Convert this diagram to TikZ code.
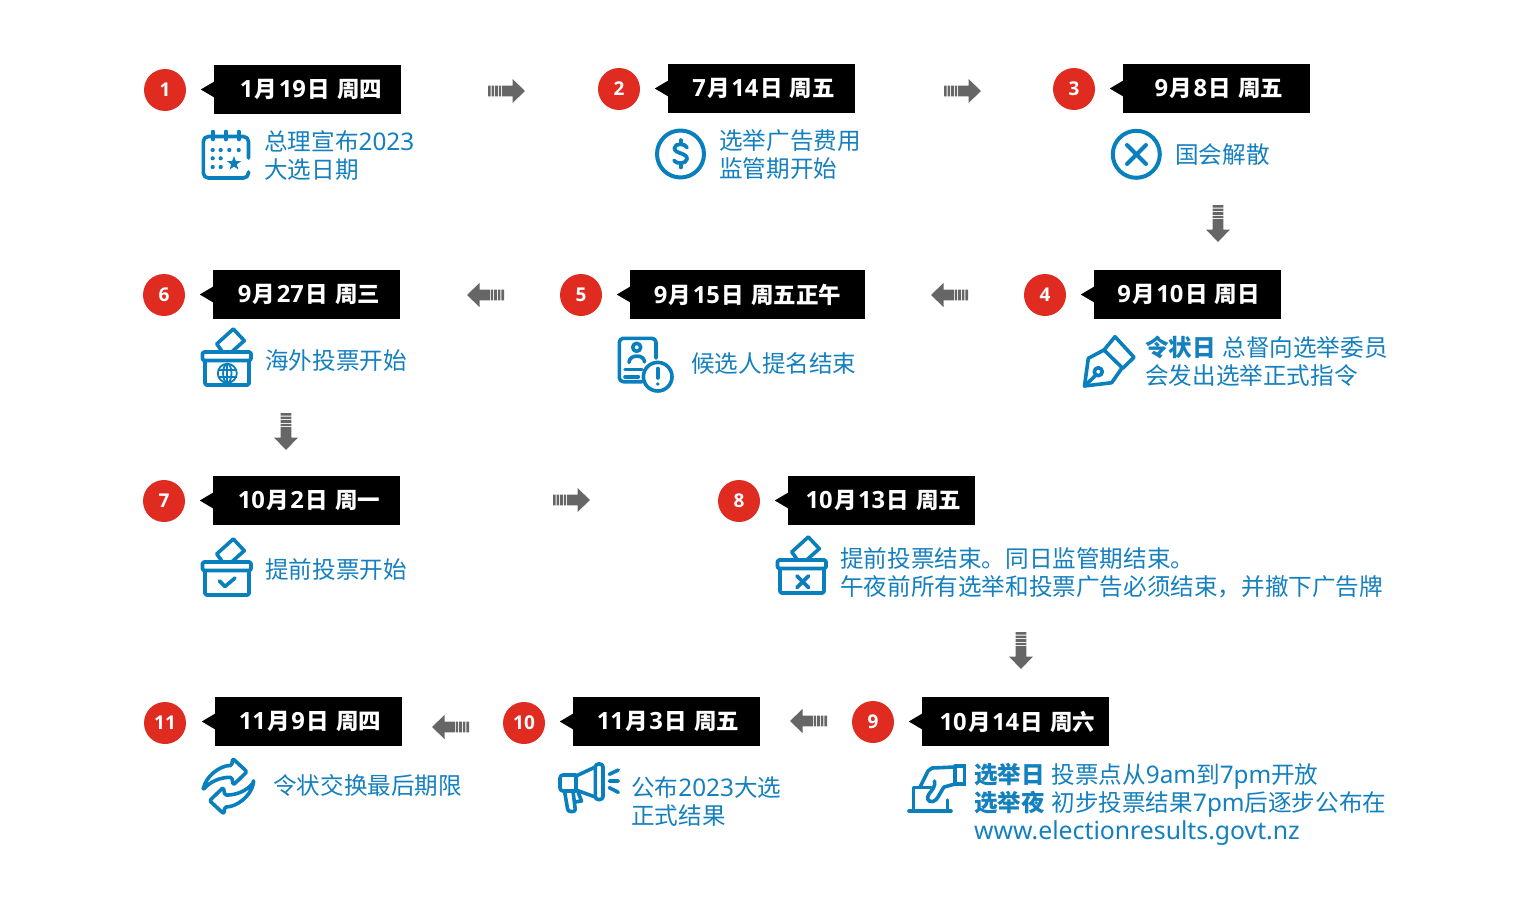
\documentclass[tikz,border=0pt]{standalone}
\usepackage{fontspec}
\setmainfont{Noto Sans CJK SC}
\newfontfamily\latfont{Noto Sans}[Scale=1.03]
\newfontfamily\latwide{Noto Sans}[Scale=1.05]
\newfontfamily\latbold{Open Sans}[Scale=1.055]
\newcommand\Lt[1]{{\latfont #1}}
\newcommand\Dg[1]{{\latbold #1}}
\newcommand\Bd[1]{\textbf{#1}\hspace{6.5pt}}
\definecolor{icoblue}{HTML}{0A7FBD}
\definecolor{txtblue}{HTML}{1580BE}
\definecolor{stepred}{HTML}{DF2B20}
\definecolor{flowgray}{HTML}{666666}
\tikzset{
  x=1pt,y=-1pt,
  stepdot/.style={circle,fill=stepred,minimum size=42pt,inner sep=0pt,text=white,font=\latbold\bfseries\fontsize{18}{18}\selectfont},
  datebox/.style={fill=black,text=white,inner sep=0pt,minimum height=49pt,font=\bfseries\fontsize{22.5}{22.5}\selectfont},
  bodylabel/.style={anchor=west,inner sep=0pt,align=left,text=txtblue,font=\fontsize{23.6}{28}\selectfont},
  ico/.style={draw=icoblue,line width=3.6pt,line cap=round,line join=round},
  pics/flowarrow/.style={code={
    \fill[flowgray] (0,-5.3) rectangle (2.6,5.3) (3.6,-5.3) rectangle (6.2,5.3) (7.2,-5.3) rectangle (9.8,5.3) (10.8,-5.3) rectangle (13.2,5.3);
    \fill[flowgray] (14,-5.3) -- (24.5,-5.3) -- (24.5,-12) -- (37,0) -- (24.5,12) -- (24.5,5.3) -- (14,5.3) -- cycle;
  }},
  pics/ballotbox/.style={code={
    \draw[ico] (221.7,350.7) -- (216.7,344) -- (233.3,329) -- (244.3,340.7) -- (232.7,351);
    \draw[ico,rounded corners=1.5pt] (202.5,352) rectangle (251,360.5);
    \draw[ico,rounded corners=1.5pt] (205,360.5) -- (205,385) -- (249,385) -- (249,360.5);
  }},
}
\newcommand\stepitem[6]{%
  \node[stepdot] (c#1) at (#2) {\raisebox{-1pt}{#1}};
  \node[datebox,minimum width=#4pt] (d#1) at (#3) {\hspace{#5pt}\raisebox{-1pt}{#6}};
  \fill (d#1.west) ++(0.5,-8) -- ++(-13.5,8) -- ++(13.5,8) -- cycle;
}
\begin{document}
\begin{tikzpicture}
\useasboundingbox (0,0) rectangle (1516,905);
\fill[white] (0,0) rectangle (1516,905);

% steps
\stepitem{1}{165,90}{307.5,89.5}{187}{7}{\Dg{1}\hspace{1.5pt}月\hspace{1.5pt}\Dg{19}\hspace{1.5pt}日\hspace{2pt} 周四}
\stepitem{2}{619,89}{761.5,88.5}{187}{4}{\Dg{7}\hspace{1.5pt}月\hspace{1.5pt}\Dg{14}\hspace{1.5pt}日\hspace{2pt} 周五}
\stepitem{3}{1074,89}{1216.5,88.5}{187}{5}{\Dg{9}\hspace{1.5pt}月\hspace{1.5pt}\Dg{8}\hspace{1.5pt}日\hspace{2pt} 周五}
\stepitem{4}{1045,295}{1187.5,294.5}{187}{2}{\Dg{9}\hspace{1.5pt}月\hspace{1.5pt}\Dg{10}\hspace{1.5pt}日\hspace{2pt} 周日}
\stepitem{5}{581,295}{747.5,294.5}{235}{0}{\Dg{9}\hspace{1.5pt}月\hspace{1.5pt}\Dg{15}\hspace{1.5pt}日\hspace{2pt} 周五正午}
\stepitem{6}{164,295}{306.5,294.5}{187}{5}{\Dg{9}\hspace{1.5pt}月\hspace{1.5pt}\Dg{27}\hspace{1.5pt}日\hspace{2pt} 周三}
\stepitem{7}{164,501}{306.5,500.5}{187}{5}{\Dg{10}\hspace{1.5pt}月\hspace{1.5pt}\Dg{2}\hspace{1.5pt}日\hspace{2pt} 周一}
\stepitem{8}{739,501}{881.5,500.5}{187}{4}{\Dg{10}\hspace{1.5pt}月\hspace{1.5pt}\Dg{13}\hspace{1.5pt}日\hspace{2pt} 周五}
\stepitem{9}{873,722}{1015.5,721.5}{187}{4}{\Dg{10}\hspace{1.5pt}月\hspace{1.5pt}\Dg{14}\hspace{1.5pt}日\hspace{2pt} 周六}
\stepitem{10}{524,723}{666.5,721.5}{187}{3}{\Dg{11}\hspace{1.5pt}月\hspace{1.5pt}\Dg{3}\hspace{1.5pt}日\hspace{2pt} 周五}
\stepitem{11}{165,723}{308.5,721.5}{187}{3}{\Dg{11}\hspace{1.5pt}月\hspace{1.5pt}\Dg{9}\hspace{1.5pt}日\hspace{2pt} 周四}

% body labels
\node[bodylabel] (t1) at (264,156) {总理宣布\Lt{2023}\\大选日期};
\node[bodylabel] (t2) at (719,155) {选举广告费用\\监管期开始};
\node[bodylabel] (t3) at (1175,155) {国会解散};
\node[bodylabel] (t4) at (1145,361) {\Bd{令状日}总督向选举委员\\会发出选举正式指令};
\node[bodylabel] (t5) at (691,364) {候选人提名结束};
\node[bodylabel] (t6) at (265,361) {海外投票开始};
\node[bodylabel] (t7) at (265,570) {提前投票开始};
\node[bodylabel] (t8) at (840,573) {提前投票结束。同日监管期结束。\\午夜前所有选举和投票广告必须结束，并撤下广告牌};
\node[bodylabel] (t9) at (974,804) {\Bd{选举日}投票点从\Lt{9am}到\Lt{7pm}开放\\\Bd{选举夜}初步投票结果\Lt{7pm}后逐步公布在\\{\latwide www.electionresults.govt.nz}};
\node[bodylabel] (t10) at (631,802) {公布\Lt{2023}大选\\正式结果};
\node[bodylabel] (t11) at (273,785.5) {令状交换最后期限};

% flow arrows
\coordinate (a12) at (488,91);   \pic at (a12) {flowarrow};
\coordinate (a23) at (944,91);   \pic at (a23) {flowarrow};
\coordinate (a34) at (1218,205); \pic[rotate=-90] at (a34) {flowarrow};
\coordinate (a45) at (968,295);  \pic[rotate=180] at (a45) {flowarrow};
\coordinate (a56) at (504,295);  \pic[rotate=180] at (a56) {flowarrow};
\coordinate (a67) at (286,413);  \pic[rotate=-90] at (a67) {flowarrow};
\coordinate (a78) at (553,500);  \pic at (a78) {flowarrow};
\coordinate (a89) at (1021,632); \pic[rotate=-90] at (a89) {flowarrow};
\coordinate (a910) at (827,721); \pic[rotate=180] at (a910) {flowarrow};
\coordinate (a1011) at (469,727);\pic[rotate=180] at (a1011) {flowarrow};

% icon 1: calendar
\draw[ico,rounded corners=5pt] (248.5,158) -- (248.5,136.5) -- (203.3,136.5) -- (203.3,178) -- (248.5,178) -- (248.5,172);
\foreach \x in {212.7,226,238.7} \draw[ico] (\x,131.5) -- (\x,139.5);
\foreach \x in {212.7,220.7,229.3,238.7} \fill[icoblue] (\x,150) circle (2.1);
\foreach \x in {212.7,220.7} \foreach \y in {158.3,167} \fill[icoblue] (\x,\y) circle (2.1);
\fill[icoblue] (234,156) -- (235.8,161) -- (241,161.2) -- (236.8,164.4) -- (238.4,169.6) -- (234,166.6) -- (229.6,169.6) -- (231.2,164.4) -- (227,161.2) -- (232.2,161) -- cycle;

% icon 2: dollar
\draw[ico,line width=4pt] (680.5,154) circle (23.5);
\draw[ico,line width=3.8pt] (687,147.5) .. controls (685.5,143.5) and (675,142.5) .. (674.5,148) .. controls (674,154) and (687.5,152.5) .. (687,159) .. controls (686.5,164.5) and (675.5,164) .. (674,160.5);
\draw[ico] (680.7,140) -- (680.7,142.5) (680.7,165) -- (680.7,167.5);

% icon 3: cross in circle
\draw[ico,line width=4pt] (1136.3,154.3) circle (23.5);
\draw[ico,line width=4pt] (1127,145) -- (1146,164) (1146,145) -- (1127,164);

% icon 4: pen nib
\draw[ico] (1115,336.7) -- (1134,357.3) -- (1122.7,368.3) -- (1104,350) -- cycle;
\draw[ico] (1104,350) -- (1088.3,358.3) -- (1084.5,386) -- (1111.7,382.7) -- (1122,368);
\draw[ico] (1098.3,371.7) circle (4);
\draw[ico] (1084.5,386) -- (1095,376);

% icon 6: ballot box with globe
\pic at (0,0) {ballotbox};
\begin{scope}[line width=1.8pt,draw=icoblue]
\draw (227.3,373.3) circle (9.5);
\draw (227.3,373.3) ellipse (4.2 and 9.5);
\draw (227.3,363.8) -- (227.3,382.8) (218,370) -- (236.6,370) (218,376.6) -- (236.6,376.6);
\end{scope}

% icon 5: candidate card
\draw[ico,rounded corners=4pt] (642,381.7) -- (619.3,381.7) -- (619.3,338.3) -- (656,338.3) -- (656,358);
\draw[ico] (636.7,347.3) circle (4);
\draw[ico] (629,362.5) .. controls (629,354) and (644.5,354) .. (644.5,362);
\draw[ico] (625,369.5) -- (642,369.5) (625,376.7) -- (638.3,376.7);
\draw[ico] (657.7,376.7) circle (14.3);
\draw[ico] (657.7,368.5) -- (657.7,378);
\fill[icoblue] (657.7,384) circle (1.9);

% icon 7: ballot box with tick
\pic at (0,210) {ballotbox};
\draw[ico] (219.5,581) -- (225,586.5) -- (235,578);

% icon 8: ballot box with cross
\pic at (575,208) {ballotbox};
\draw[ico,line width=3.8pt] (797,576) -- (808.5,587.5) (808.5,576) -- (797,587.5);

% icon 11: exchange arrows
\begin{scope}[ico,rounded corners=1.5pt]
\draw (203,790) .. controls (206,776) and (220,765.5) .. (231.7,765.5) -- (232.7,758.5) -- (247,771.7) -- (233.3,785) -- (231.7,777.3) .. controls (220,777.3) and (210,781.7) .. (203,790) -- cycle;
\draw (253.6,782.4) .. controls (250.6,796.4) and (236.6,806.9) .. (224.9,806.9) -- (223.9,813.9) -- (209.6,800.7) -- (223.3,787.4) -- (224.9,795.1) .. controls (236.6,795.1) and (246.6,790.7) .. (253.6,782.4) -- cycle;
\end{scope}

% icon 10: megaphone
\draw[ico,rounded corners=3pt] (595.3,764) rectangle (603,799.5);
\draw[ico] (595.3,767) -- (576,776) -- (576,790) -- (595.3,797);
\draw[ico,rounded corners=3pt] (576,775) -- (560,775) -- (560,791) -- (576,791);
\draw[ico,rounded corners=2.5pt] (564.5,791) -- (568,811.5) -- (575.5,811.5) -- (573,791);
\draw[ico] (578,792) -- (581.5,801) -- (575,802);
\draw[ico] (609.3,774.3) -- (618.3,770) (609.3,781) -- (618.3,781) (609.3,787.7) -- (618.3,792.3);

% icon 9: hand and ballot
\draw[ico] (909,811) -- (951,811);
\draw[ico] (913.3,811) -- (913.3,787.5) -- (931,787.5) (947.3,811) -- (947.3,800);
\draw[ico] (920,787) -- (928,771) -- (932,768) -- (955,767) -- (955,784) -- (944,787) .. controls (939,794) and (938,800) .. (933,801.5) .. controls (928,802.5) and (926,798) .. (929,794) .. controls (932,790) and (936,786) .. (934.5,781);
\draw[ico,line join=miter] (955,766) -- (964.5,766) -- (964.5,784) -- (955,784);
\end{tikzpicture}
\end{document}
